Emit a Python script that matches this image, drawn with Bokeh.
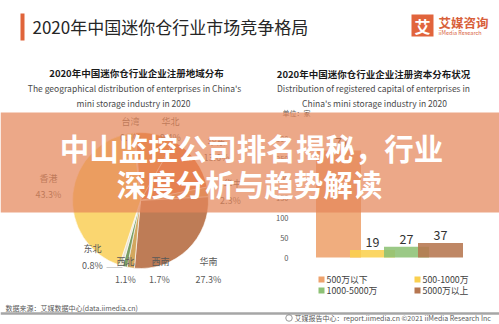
import numpy as np
from bokeh.plotting import figure
from bokeh.models import Range1d, ColumnDataSource
from bokeh.core.properties import value
from bokeh.embed import file_html
from bokeh.resources import INLINE

W, H = 499, 324
CJK = value("Noto Sans CJK SC")

# ---------------- data ----------------
regions = ["台湾", "华北", "华东", "华中", "华南", "西南", "西北", "东北", "香港"]
region_share = [0.5, 9.4, 13.6, 2.3, 27.3, 1.7, 1.1, 0.8, 43.3]
region_colors = ["#F4B183", "#EE8A3E", "#E9733A", "#D99A5B", "#BE7C56",
                 "#D3A75E", "#7A9E64", "#E9E3D2", "#FAD670"]

capital_bins = ["500万以下", "500-1000万", "1000-5000万", "5000万以上"]
capital_counts = [271, 19, 27, 37]
capital_colors = ["#EEA26C", "#FAD04F", "#8DC175", "#B67650"]
y_ticks = [0, 50, 100, 150, 200, 250, 300]

# ---------------- layout (pixels, y measured from top) ----------------
def Y(yd):
    return H - yd

pie_cx, pie_cy, pie_r = 140, 200, 68
pie_offset_deg = -6.0
label_pos = [((130, 121), (130, 137)), ((170, 121), (170, 137)),
             ((216, 141), (216, 157)), ((232, 183), (230, 200)),
             ((208, 261), (208, 279)), ((160, 261), (159, 279)),
             ((125, 261), (125, 279)), ((92, 248), (92, 265)),
             ((48, 178), (48, 194))]

bar_c0, bar_step, bar_w_px = 338, 34, 45
bar_zero_px, px_per_unit = 257, 0.395
tick_x_px = 288
legend_pos = [(318, 279), (414, 279), (318, 290), (414, 290)]

p = figure(width=W, height=H, output_backend="svg", toolbar_location=None,
           x_range=Range1d(0, W), y_range=Range1d(0, H),
           x_axis_location=None, y_axis_location=None, min_border=0)
p.grid.visible = False
p.outline_line_color = None
p.background_fill_color = "white"
p.border_fill_color = "white"

p.extra_x_ranges = {"bx": Range1d((0 - bar_c0) / bar_step, (W - bar_c0) / bar_step)}
p.extra_y_ranges = {"by": Range1d(-(H - bar_zero_px) / px_per_unit, bar_zero_px / px_per_unit)}

# ---------------- header ----------------
p.quad(left=20, right=24, top=Y(13), bottom=Y(40), color="#E0643A", line_color=None)
p.text(x=[32], y=[Y(26)], text=["2020年中国迷你仓行业市场竞争格局"], text_font=CJK,
       text_font_size="17px", text_color="#262626", text_baseline="middle")
p.quad(left=411, right=433, top=Y(14), bottom=Y(36), color="#E1643C", line_color=None)
p.text(x=[422], y=[Y(25)], text=["艾"], text_font=CJK, text_font_size="16px",
       text_font_style="bold", text_color="white", text_align="center", text_baseline="middle")
p.text(x=[438], y=[Y(22)], text=["艾媒咨询"], text_font=CJK, text_font_size="12.5px",
       text_font_style="bold", text_color="#D8603A", text_baseline="middle")
p.text(x=[438], y=[Y(32.5)], text=["iiMedia Research"], text_font=CJK, text_font_size="5.5px",
       text_color="#D8603A", text_baseline="middle")

# subtitles
p.text(x=[136], y=[Y(72)], text=["2020年中国迷你仓行业企业注册地域分布"], text_font=CJK,
       text_font_size="9.5px", text_font_style="bold", text_color="#1a1a1a",
       text_align="center", text_baseline="middle")
p.text(x=[134, 133], y=[Y(87), Y(102)],
       text=["The geographical distribution of enterprises in China's", "mini storage industry in 2020"],
       text_font=CJK, text_font_size="8.5px", text_color="#4a4a4a",
       text_align="center", text_baseline="middle")
p.text(x=[373], y=[Y(73)], text=["2020年中国迷你仓行业企业注册资本分布状况"], text_font=CJK,
       text_font_size="9.5px", text_font_style="bold", text_color="#1a1a1a",
       text_align="center", text_baseline="middle")
p.text(x=[373, 374], y=[Y(87), Y(102)],
       text=["Distribution of registered capital of enterprises in", "China's mini storage industry in 2020"],
       text_font=CJK, text_font_size="8.5px", text_color="#4a4a4a",
       text_align="center", text_baseline="middle")
p.text(x=[282], y=[Y(112)], text=["单位：家"], text_font=CJK, text_font_size="7px",
       text_color="#595959", text_baseline="middle")

# ---------------- pie ----------------
shares = np.array(region_share, dtype=float)
frac = shares / shares.sum()
cum = np.concatenate([[0], np.cumsum(frac)])
t0 = np.deg2rad(pie_offset_deg) + 2 * np.pi * cum[:-1]
t1 = np.deg2rad(pie_offset_deg) + 2 * np.pi * cum[1:]
pie_src = ColumnDataSource(dict(start=np.pi / 2 - t1, end=np.pi / 2 - t0, color=region_colors))
p.wedge(x=pie_cx, y=Y(pie_cy), radius=pie_r, start_angle="start", end_angle="end",
        fill_color="color", line_color="white", line_width=0.6, source=pie_src)

p.text(x=[lp[0][0] for lp in label_pos], y=[Y(lp[0][1]) for lp in label_pos], text=regions,
       text_font=CJK, text_font_size="9px", text_color="#595959",
       text_align="center", text_baseline="middle")
p.text(x=[lp[1][0] for lp in label_pos], y=[Y(lp[1][1]) for lp in label_pos],
       text=[f"{s:.1f}%" for s in region_share],
       text_font=CJK, text_font_size="9px", text_color="#595959",
       text_align="center", text_baseline="middle")
p.segment(x0=[106], y0=[Y(267)], x1=[122], y1=[Y(267)], line_color="#BFBFBF", line_width=0.8)

# ---------------- bars ----------------
idx = list(range(len(capital_bins)))
bar_src = ColumnDataSource(dict(x=idx, top=capital_counts, color=capital_colors,
                                lab=[str(c) for c in capital_counts]))
p.vbar(x="x", top="top", bottom=0, width=bar_w_px / bar_step, fill_color="color",
       fill_alpha=0.88, line_color=None, source=bar_src, x_range_name="bx", y_range_name="by")
p.text(x="x", y="top", text="lab", source=bar_src, x_range_name="bx", y_range_name="by",
       text_font=CJK, text_font_size="12.5px", text_color="#333333",
       text_align="center", text_baseline="bottom", y_offset=-3)
tick_idx = (tick_x_px - bar_c0) / bar_step
p.text(x=[tick_idx] * len(y_ticks), y=y_ticks, text=[str(t) for t in y_ticks],
       x_range_name="bx", y_range_name="by", text_font=CJK, text_font_size="7.5px",
       text_color="#595959", text_align="right", text_baseline="middle")

# legend
p.scatter(x=[lp[0] + 3 for lp in legend_pos], y=[Y(lp[1]) for lp in legend_pos], marker="square",
          size=6, fill_color=capital_colors, line_color=None)
p.text(x=[lp[0] + 8 for lp in legend_pos], y=[Y(lp[1]) for lp in legend_pos], text=capital_bins,
       text_font=CJK, text_font_size="8.8px", text_color="#404040", text_baseline="middle")

# ---------------- footer ----------------
p.quad(left=0, right=W, top=Y(311.8), bottom=Y(314.2), color="#A6A6A6", line_color=None)
p.text(x=[5], y=[Y(307)], text=["数据来源：艾媒数据中心(data.iimedia.cn)"], text_font=CJK,
       text_font_size="7px", text_color="#595959", text_baseline="middle")
p.scatter(x=[288.5], y=[Y(317.5)], marker="circle", size=6.5, fill_color=None,
          line_color="#7F7F7F", line_width=0.8)
p.text(x=[495], y=[Y(317.5)], text=["艾媒报告中心：report.iimedia.cn   ©2021  iiMedia Research Inc"],
       text_font=CJK, text_font_size="7px", text_color="#595959", text_align="right",
       text_baseline="middle")

# ---------------- overlay banner ----------------
p.quad(left=0, right=W, top=Y(112), bottom=Y(212), fill_color="#E4875A", fill_alpha=0.72,
       line_color=None)
p.text(x=[251, 249], y=[Y(146), Y(182)],
       text=["中山监控公司排名揭秘，行业", "深度分析与趋势解读"],
       text_font=CJK, text_font_size="29.5px", text_font_style="bold", text_color="white",
       text_align="center", text_baseline="middle")

open("out.html", "w").write(file_html(p, INLINE))
